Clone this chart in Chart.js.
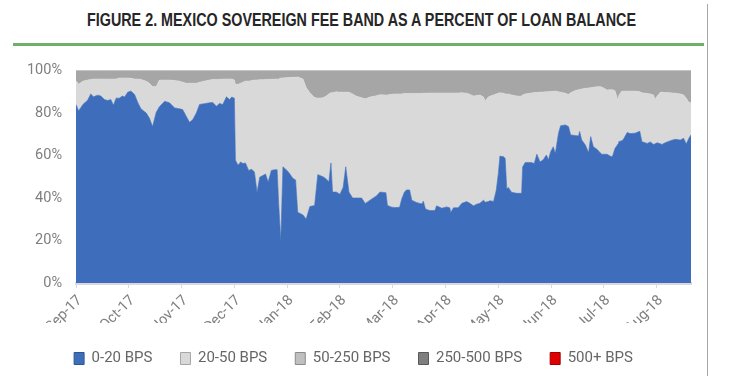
<!DOCTYPE html>
<html><head><meta charset="utf-8">
<script src="https://cdn.jsdelivr.net/npm/chart.js@4.4.1/dist/chart.umd.min.js"></script>
<style>
html,body{margin:0;padding:0;background:#fff;}
#wrap{position:relative;width:729px;height:383px;overflow:hidden;background:#fff;}
#title{position:absolute;left:0;top:10px;white-space:nowrap;font-family:'Liberation Sans','DejaVu Sans',sans-serif;font-weight:bold;font-size:18px;line-height:20px;color:#262626;transform-origin:0 0;}
#rule{position:absolute;left:13px;top:43px;width:691px;height:3px;background:#6cb06a;}
#vline{position:absolute;left:707px;top:4px;width:1px;height:372px;background:#a6a6a6;}
canvas{position:absolute;left:0;top:0;}
</style></head>
<body><div id="wrap">
<div id="title">FIGURE 2. MEXICO SOVEREIGN FEE BAND AS A PERCENT OF LOAN BALANCE</div>
<div id="rule"></div><div id="vline"></div>
<canvas id="c" width="729" height="383"></canvas>
</div>
<script>
// ---- data ----
const monthLabels = ['Sep-17','Oct-17','Nov-17','Dec-17','Jan-18','Feb-18','Mar-18','Apr-18','May-18','Jun-18','Jul-18','Aug-18'];
const yTickValues = [0,20,40,60,80,100];
const seriesNames = ['0-20 BPS','20-50 BPS','50-250 BPS','250-500 BPS','500+ BPS'];
// x position in months after Sep-17
const xs = [
0,0.05,0.13,0.22,0.28,0.33,0.41,0.47,0.54,0.60,
0.66,0.71,0.76,0.82,0.88,0.92,0.98,1.04,1.11,1.17,
1.23,1.33,1.39,1.45,1.52,1.58,1.68,1.77,1.87,1.96,
2.02,2.09,2.15,2.21,2.28,2.34,2.43,2.53,2.59,2.66,
2.72,2.78,2.85,2.91,2.95,3.00,3.02,3.07,3.12,3.16,
3.21,3.27,3.33,3.38,3.43,3.48,3.54,3.59,3.64,3.70,
3.76,3.81,3.84,3.88,3.92,4.02,4.11,4.16,4.20,4.30,
4.36,4.43,4.52,4.58,4.68,4.74,4.79,4.83,4.86,4.93,
5.00,5.06,5.11,5.17,5.24,5.31,5.41,5.48,5.57,5.69,
5.76,5.87,5.90,5.98,6.04,6.13,6.17,6.22,6.26,6.32,
6.36,6.45,6.55,6.58,6.62,6.70,6.80,6.83,6.93,7.02,
7.08,7.10,7.15,7.24,7.31,7.40,7.46,7.53,7.59,7.65,
7.72,7.75,7.81,7.84,7.91,7.96,8.00,8.03,8.10,8.13,
8.16,8.19,8.25,8.35,8.43,8.44,8.46,8.51,8.57,8.63,
8.68,8.73,8.79,8.85,8.91,8.95,8.99,9.04,9.08,9.14,
9.18,9.27,9.33,9.37,9.46,9.52,9.54,9.58,9.65,9.71,
9.75,9.80,9.87,9.93,9.96,10.06,10.12,10.16,10.21,10.27,
10.28,10.34,10.37,10.44,10.50,10.59,10.68,10.72,10.82,10.88,
10.94,10.97,11.01,11.07,11.10,11.16,11.26,11.35,11.45,11.51,
11.56,11.61,11.65];
const bps0_20 = [
84,81,84,86,89,87.6,88.4,88,86.3,85.9,
86.3,83.6,87,87,88,87.5,89.8,90.3,88.7,85,
82,80,77.6,73.6,80.3,83,85.5,84.8,82.4,82,
81.6,78.4,75.6,76.8,80,84,84.4,84.8,85,83.2,
84.5,84,87.6,86.3,87.5,87,57.8,55.4,57,56.2,
56.5,53,53.5,52.2,42.7,49.8,50.6,51.3,47.5,53,
53.3,53.3,37,19.8,54.7,52.4,49.2,48.5,33.3,32,
30.1,36,36.5,51,50,49,47.5,56.5,42.8,42.8,
41.8,45,54.7,42.8,40,40,40,37.4,39,41,
42.8,42.5,36.5,35.7,35.5,35.6,39.5,42.7,43.8,43.8,
39,37.9,37.2,38.5,34.8,34.1,34.1,36.3,35.2,35.8,
35.4,33.2,35.4,35.4,37.5,38.3,37.5,36.3,37.1,37.5,
39,38,38.3,38.7,38.4,43.5,51.4,59.7,59.4,58.6,
44.3,45,42.7,42.2,42.2,41.1,54.6,56.7,56.7,56.7,
56.2,60.6,57,58,60.2,58,61.7,64.1,61,70.5,
74,74.4,73.6,69.7,69.4,69.2,71.3,67.3,64.9,61.3,
68.9,64.1,62.9,61.3,60.6,60.6,59.7,59.4,63.3,65.5,
66.5,67,67.6,70.8,70.3,70.5,71.4,66.5,65.7,66.4,
65.2,65.5,66,65.5,65.2,66,67,67.6,67.3,68.1,
65.4,68.1,69.7];
const bps20_50 = [
11.2,12.5,11,9.5,6.8,8.4,7.6,8,9.7,10.1,
9.7,12.4,9,9.5,8.5,9,6.7,6,7.3,11,
13.8,15,16.4,18.9,12.1,12.5,10,10.7,12.9,13,
12.9,15.6,18.4,17.2,14,10.5,10.6,10.7,10.8,12.6,
11.3,12,8.4,9.7,8.5,8.5,35.7,38.1,37,38.3,
38.5,42,41.8,43.3,52.8,45.9,45.1,44.5,48.3,42.9,
42.6,42.7,59,76.7,41.8,44.3,47.6,48.3,63.7,64,
61.9,53.5,50.8,36,37.2,39,41.5,33,46.7,47.2,
48,44.8,35.1,47,49,47.9,47.2,49.3,48.5,47.1,
45.8,46,52,53.1,53.5,53.4,49.5,46.5,45.4,45.4,
50.2,51.3,52,50.8,54.5,55.3,55.3,53.1,54.2,53.6,
54,56.2,54,54,52,51,51.3,51.7,51.1,51,
48.5,47.6,49.2,49.2,50.1,45.5,37.9,29.8,29.9,30.4,
44.7,43.9,45.8,45.8,45.7,46.8,33.9,32.3,32.5,32.7,
33.4,29.1,32.8,31.9,29.8,32,28.4,26.1,29.3,19.5,
15.8,14.9,15.1,19.8,21.2,21.8,19.8,24,26.7,30.5,
23,28,29.5,31.1,31.6,30.2,31.3,31.6,27.2,20.1,
21.5,23.3,22.7,19.5,20,19.8,18.6,23,23.5,22.6,
23.3,20.8,22,24.3,24.6,23.6,22.5,21.7,21.7,20.4,
21.6,16.9,15.1];
const bps50_250 = [
4.8,6.5,5,4.5,4.2,4,4,4,4,4,
4,4,4,3.5,3.5,3.5,3.5,3.7,4,4,
4.2,5,6,7.5,7.6,4.5,4.5,4.5,4.7,5,
5.5,6,6,6,6,5.5,5,4.5,4.2,4.2,
4.2,4,4,4,4,4.5,6.5,6.5,6,5.5,
5,5,4.7,4.5,4.5,4.3,4.3,4.2,4.2,4.1,
4.1,4,4,3.5,3.5,3.3,3.2,3.2,3,4,
8,10.5,12.7,13,12.8,12,11,10.5,10.5,10,
10.2,10.2,10.2,10.2,11,12.1,12.8,13.3,12.5,11.9,
11.4,11.5,11.5,11.2,11,11,11,10.8,10.8,10.8,
10.8,10.8,10.8,10.7,10.7,10.6,10.6,10.6,10.6,10.6,
10.6,10.6,10.6,10.6,10.5,10.7,11.2,12,11.8,11.5,
12.5,14.4,12.5,12.1,11.5,11,10.7,10.5,10.7,11,
11,11.1,11.5,12,12.1,12.1,11.5,11,10.8,10.6,
10.4,10.3,10.2,10.1,10,10,9.9,9.8,9.7,10,
10.2,10.7,11.3,10.5,9.4,9,8.9,8.7,8.4,8.2,
8.1,7.9,7.6,7.6,7.8,9.2,9,9,9.5,14.4,
12,9.7,9.7,9.7,9.7,9.7,10,10.5,10.8,11,
11.5,13.7,12,10.2,10.2,10.4,10.5,10.7,11,11.5,
13,15,15.2];
// no visible share in the picture
const bps250_500 = [];
const bps500plus = [];

// ---- styles ----
const FONT = "Roboto,'Liberation Sans',sans-serif";
const areaColors = ['#3e6ebb','#d9d9d9','#a6a6a6','#7f7f7f','#e00000'];
const legendFill = ['#3d6fb9','#d9d9d9','#bfbfbf','#7f7f7f','#e00000'];
const legendStroke = ['#2f5597','#a6a6a6','#8c8c8c','#595959','#a00000'];

// title width fit
const t = document.getElementById('title');
const tw = t.getBoundingClientRect().width;
t.style.transform = 'translateX(87px) scaleX(' + (549 / tw) + ')';

const pts = arr => arr.map((v, i) => ({x: xs[i], y: v}));
const seriesData = [bps0_20, bps20_50, bps50_250, bps250_500, bps500plus];

Chart.defaults.font.family = FONT;

new Chart(document.getElementById('c'), {
  type: 'line',
  data: {
    datasets: seriesData.map((arr, i) => ({
      label: seriesNames[i],
      data: pts(arr),
      backgroundColor: areaColors[i],
      borderColor: areaColors[i],
      borderWidth: i < 3 ? 0.6 : 0,
      fill: i === 0 ? 'origin' : '-1',
      pointRadius: 0,
      tension: 0
    }))
  },
  options: {
    responsive: false,
    animation: false,
    devicePixelRatio: 1,
    layout: {padding: {top: 70.5, left: 16, right: 38, bottom: 7}},
    plugins: {
      tooltip: {enabled: false},
      legend: {
        position: 'bottom',
        labels: {
          boxWidth: 10, boxHeight: 12, padding: 28,
          color: '#666666',
          font: {size: 15, family: FONT},
          generateLabels: chart => chart.data.datasets.map((d, i) => ({
            text: d.label, fillStyle: legendFill[i], strokeStyle: legendStroke[i],
            lineWidth: 1, hidden: false, datasetIndex: i, fontColor: '#666666'
          }))
        }
      }
    },
    scales: {
      x: {
        type: 'linear', min: 0, max: 11.65, z: 1,
        afterBuildTicks: s => { s.ticks = monthLabels.map((l, i) => ({value: i})); },
        afterFit: s => { s.height = 40; },
        ticks: {
          callback: v => monthLabels[Math.round(v)],
          minRotation: 45, maxRotation: 45, autoSkip: false,
          color: '#7f7f7f', font: {size: 14.5, family: FONT}, padding: 4, labelOffset: 4
        },
        grid: {drawOnChartArea: false, color: '#d9d9d9', tickLength: 5, lineWidth: 1},
        border: {color: '#d9d9d9', width: 3}
      },
      y: {
        stacked: true, min: 0, max: 100,
        afterBuildTicks: s => { s.ticks = yTickValues.map(v => ({value: v})); },
        afterFit: s => { s.width = 60; },
        ticks: {callback: v => v + '%', color: '#7f7f7f', font: {size: 14.5, family: FONT}, padding: 14},
        grid: {color: '#d9d9d9', lineWidth: 2, drawTicks: false},
        border: {display: false}
      }
    }
  }
});
</script>
</body></html>
